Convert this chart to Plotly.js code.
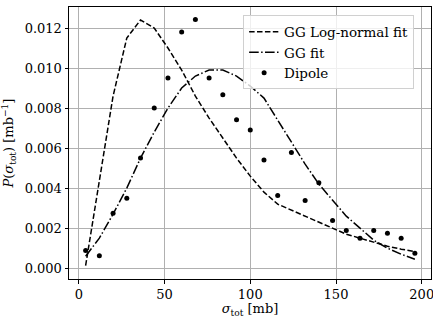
<!DOCTYPE html>
<html>
<head>
<meta charset="utf-8">
<script src="https://cdn.plot.ly/plotly-3.0.1.min.js"></script>
<style>
html,body{margin:0;padding:0;background:#fff;}
#chart{width:433px;height:318px;}
</style>
</head>
<body>
<div id="chart"></div>
<script>
// sigma_tot values (mb)
const sigmaTot = [4,12,20,28,36,44,52,60,68,76,84,92,100,108,116,124,132,140,148,156,164,172,180,188,196];
// GG log-normal fit
const logNormalFit = [0.00013,0.0044,0.0086,0.0115,0.0124,0.0120,0.0110,0.0099,0.0086,0.0075,0.0065,0.0055,0.0046,0.0038,0.0032,0.0029,0.0026,0.0023,0.0020,0.0017,0.0015,0.0013,0.0011,0.00095,0.00083];
// GG fit
const ggFit = [0.0006,0.0015,0.0027,0.0040,0.0055,0.0068,0.0080,0.0090,0.0096,0.0099,0.0099,0.0096,0.0091,0.0085,0.0074,0.0063,0.0052,0.0042,0.0034,0.0026,0.0020,0.0014,0.0010,0.0007,0.00045];
// Dipole
const dipole = [0.00088,0.00062,0.00275,0.0035,0.0055,0.0080,0.0095,0.0118,0.01243,0.0095,0.00866,0.00742,0.0069,0.0054,0.00363,0.00578,0.00338,0.00427,0.00238,0.00188,0.0015,0.00188,0.00175,0.0015,0.00075];

const xTicks = [0,50,100,150,200];
const yTicks = [0,0.002,0.004,0.006,0.008,0.010,0.012];

const font = 'DejaVu Serif';

const traces = [
  {x: sigmaTot, y: logNormalFit, type:'scatter', mode:'lines', name:'GG Log-normal fit',
   line:{color:'#000', width:1.5, dash:'5.5px,2.4px'}},
  {x: sigmaTot, y: ggFit, type:'scatter', mode:'lines', name:'GG fit',
   line:{color:'#000', width:1.5, dash:'9.6px,2.4px,1.5px,2.4px'}},
  {x: sigmaTot, y: dipole, type:'scatter', mode:'markers', name:'Dipole',
   marker:{color:'#000', size:5}}
];

const axisCommon = {
  showline:true, mirror:true, linecolor:'#000', linewidth:1,
  showgrid:true, gridcolor:'#b0b0b0', gridwidth:1,
  zeroline:false, ticks:'outside', ticklen:3.5, tickwidth:1, tickcolor:'#000',
  tickfont:{family:font, size:13, color:'#000'}, automargin:false,
  ticklabeloverflow:'allow'
};

const layout = {
  width:433, height:318,
  margin:{l:69, r:2, t:7, b:39},
  paper_bgcolor:'#fff', plot_bgcolor:'#fff',
  font:{family:font, color:'#000'},
  showlegend:true,
  legend:{x:0.481, y:0.969, xanchor:'left', yanchor:'top',
    bgcolor:'rgba(255,255,255,0.8)', bordercolor:'#d0d0d0', borderwidth:1,
    font:{family:font, size:13.5, color:'#000'}, itemwidth:30, tracegroupgap:0},
  xaxis: Object.assign({}, axisCommon, {
    range:[-5.7,205.4], tickvals:xTicks, ticktext:xTicks.map(String),
    title:{text:'<i>σ</i><sub>tot</sub> [mb]', font:{family:font, size:13, color:'#000'}, standoff:7}
  }),
  yaxis: Object.assign({}, axisCommon, {
    range:[-0.00054,0.01305], tickvals:yTicks, ticktext:yTicks.map(v=>v.toFixed(3)),
    title:{text:'<i>P</i>(<i>σ</i><sub>tot</sub>) [mb<sup>−1</sup>]', font:{family:font, size:13, color:'#000'}, standoff:9}
  })
};

Plotly.newPlot('chart', traces, layout, {displayModeBar:false, staticPlot:true});
</script>
</body>
</html>
